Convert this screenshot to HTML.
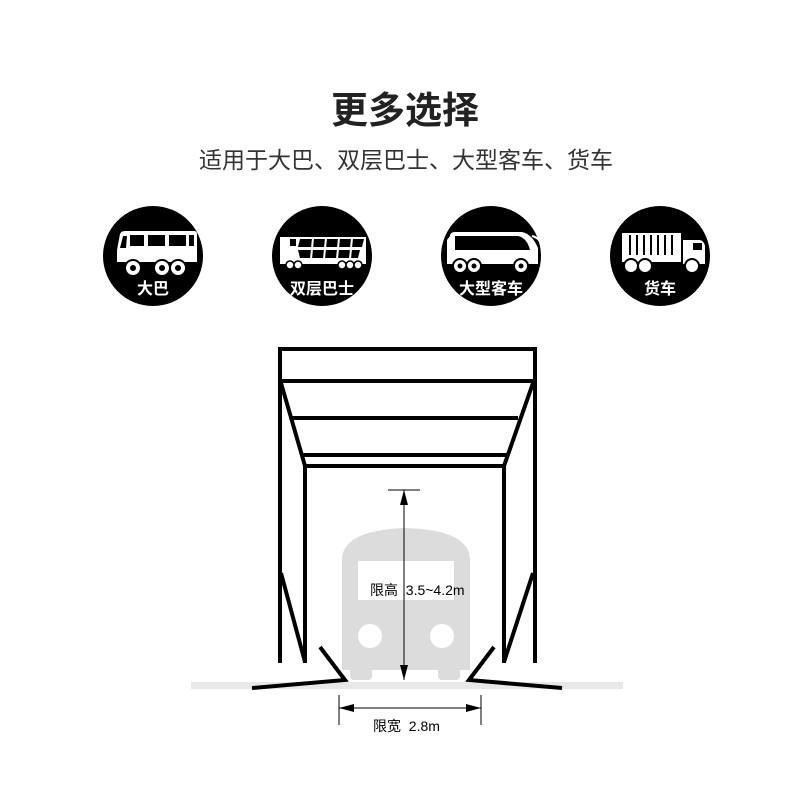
<!DOCTYPE html>
<html><head><meta charset="utf-8"><style>
html,body{margin:0;padding:0;background:#fff;}
body{width:800px;height:800px;overflow:hidden;}
</style></head><body>
<svg width="800" height="800" viewBox="0 0 800 800" xmlns="http://www.w3.org/2000/svg" font-family="'Liberation Sans','Noto Sans CJK SC',sans-serif">
<text x="405" y="123" text-anchor="middle" font-size="37" font-weight="bold" fill="#222">更多选择</text>
<text x="406" y="168" text-anchor="middle" font-size="23" fill="#333">适用于大巴、双层巴士、大型客车、货车</text>

<!-- icon 1 bus -->
<g>
<circle cx="153" cy="256" r="50" fill="#000"/>
<path d="M120 234 Q121 231 125 231 L194 231 Q197 231 197 234 L197 262 L117 262 L117 250 Z" fill="#fff"/>
<rect x="130" y="235" width="14" height="11" fill="#000"/>
<rect x="148" y="235" width="17" height="11" fill="#000"/>
<rect x="169" y="235" width="17" height="11" fill="#000"/>
<rect x="189" y="235" width="5" height="11" fill="#000"/>
<path d="M123 236 L127 236 L126 248 L120 248 Z" fill="#000"/>
<circle cx="133" cy="268" r="8" fill="#fff" stroke="#000" stroke-width="2"/><circle cx="133" cy="268" r="3" fill="#000"/>
<circle cx="162" cy="268" r="8" fill="#fff" stroke="#000" stroke-width="2"/><circle cx="162" cy="268" r="3" fill="#000"/>
<circle cx="178" cy="268" r="8" fill="#fff" stroke="#000" stroke-width="2"/><circle cx="178" cy="268" r="3" fill="#000"/>
<text x="153" y="294" text-anchor="middle" font-size="16" font-weight="bold" fill="#fff">大巴</text>
</g>
<!-- icon 2 double decker -->
<g>
<circle cx="322" cy="256" r="50" fill="#000"/>
<rect x="280" y="237" width="86" height="27" fill="#fff"/>
<rect x="290" y="239" width="6" height="7" fill="#000"/>
<path d="M300 239 L364 239 L362 247 L298 247 Z" fill="#000"/>
<path d="M298 250 L360 250 L358 258 L300 258 Z" fill="#000"/>
<g stroke="#fff" stroke-width="2"><line x1="313" y1="238" x2="311" y2="259"/><line x1="326" y1="238" x2="324" y2="259"/><line x1="339" y1="238" x2="337" y2="259"/><line x1="352" y1="238" x2="350" y2="259"/></g>
<circle cx="290" cy="265" r="4" fill="#fff" stroke="#000" stroke-width="1.5"/><circle cx="298" cy="265" r="4" fill="#fff" stroke="#000" stroke-width="1.5"/>
<circle cx="342" cy="265" r="4" fill="#fff" stroke="#000" stroke-width="1.5"/><circle cx="350" cy="265" r="4" fill="#fff" stroke="#000" stroke-width="1.5"/><circle cx="358" cy="265" r="4" fill="#fff" stroke="#000" stroke-width="1.5"/>
<text x="322" y="294" text-anchor="middle" font-size="16" font-weight="bold" fill="#fff">双层巴士</text>
</g>
<!-- icon 3 coach -->
<g>
<circle cx="491" cy="256" r="50" fill="#000"/>
<path d="M450 236 Q450 232 455 232 L522 232 Q532 234 538 248 L538 264 L447 264 L447 240 Z" fill="#fff"/>
<path d="M455 236 L518 236 Q527 238 530 250 L455 250 Z" fill="#000"/>
<path d="M532 236 Q540 238 541 245" stroke="#fff" stroke-width="2" fill="none"/>
<circle cx="460" cy="266" r="7" fill="#fff" stroke="#000" stroke-width="2"/><circle cx="460" cy="266" r="2.5" fill="#000"/>
<circle cx="474" cy="266" r="7" fill="#fff" stroke="#000" stroke-width="2"/><circle cx="474" cy="266" r="2.5" fill="#000"/>
<circle cx="521" cy="266" r="7" fill="#fff" stroke="#000" stroke-width="2"/><circle cx="521" cy="266" r="2.5" fill="#000"/>
<text x="491" y="294" text-anchor="middle" font-size="16" font-weight="bold" fill="#fff">大型客车</text>
</g>
<!-- icon 4 truck -->
<g>
<circle cx="660" cy="256" r="50" fill="#000"/>
<rect x="622" y="233" width="59" height="29" fill="#fff"/>
<g stroke="#000" stroke-width="2"><line x1="630" y1="235" x2="630" y2="255"/><line x1="637" y1="235" x2="637" y2="255"/><line x1="644" y1="235" x2="644" y2="255"/><line x1="651" y1="235" x2="651" y2="255"/><line x1="658" y1="235" x2="658" y2="255"/><line x1="665" y1="235" x2="665" y2="255"/><line x1="672" y1="235" x2="672" y2="255"/></g>
<path d="M683 240 L700 240 Q704 241 705 246 L705 264 L683 264 Z" fill="#fff"/>
<rect x="693" y="243" width="9" height="7" fill="#000"/>
<circle cx="631" cy="266" r="7" fill="#fff" stroke="#000" stroke-width="2"/>
<circle cx="645" cy="266" r="7" fill="#fff" stroke="#000" stroke-width="2"/>
<circle cx="692" cy="266" r="7" fill="#fff" stroke="#000" stroke-width="2"/>
<text x="660" y="294" text-anchor="middle" font-size="16" font-weight="bold" fill="#fff">货车</text>
</g>

<!-- ground -->
<rect x="191" y="682" width="432" height="7" fill="#e8e8e8"/>
<!-- bus -->
<g fill="#dcdcdc">
<path d="M342 560 Q342 530 406 528 Q470 530 470 560 L470 670 L342 670 Z"/>
<rect x="350" y="660" width="22" height="20" rx="4"/>
<rect x="438" y="660" width="22" height="20" rx="4"/>
</g>
<rect x="358" y="561" width="96" height="39" fill="#fff"/>
<circle cx="370" cy="636" r="12" fill="#fff"/>
<circle cx="442" cy="636" r="12" fill="#fff"/>

<!-- frame -->
<g stroke="#000" stroke-width="4" fill="none" stroke-linecap="butt">
<rect x="280" y="349" width="255" height="32"/>
<line x1="280" y1="381" x2="280" y2="663"/>
<line x1="535" y1="381" x2="535" y2="663"/>
<polyline points="281,383 305,466 305,663"/>
<polyline points="533,383 504,466 504,663"/>
<line x1="292" y1="418" x2="518" y2="418"/>
<line x1="303" y1="455" x2="507" y2="455"/>
<line x1="305" y1="466" x2="504" y2="466"/>
<line x1="281" y1="573" x2="305" y2="662"/>
<line x1="533" y1="573" x2="504" y2="662"/>
<polyline points="252,688 345,680 320,647"/>
<polyline points="562,688 469,680 494,647"/>
</g>

<!-- dimensions -->
<g stroke="#000" stroke-width="1">
<line x1="388" y1="490" x2="420" y2="490"/>
<line x1="404" y1="490" x2="404" y2="680"/>
<line x1="339" y1="695" x2="339" y2="725"/>
<line x1="481" y1="695" x2="481" y2="725"/>
<line x1="339" y1="708" x2="481" y2="708"/>
</g>
<path d="M404 490 L400 505 L408 505 Z M404 680 L400 665 L408 665 Z" fill="#000"/>
<path d="M339 708 L354 704 L354 712 Z M481 708 L466 704 L466 712 Z" fill="#000"/>
<text x="370" y="595" font-size="14" fill="#000" xml:space="preserve">限高  3.5~4.2m</text>
<text x="373" y="731" font-size="14" fill="#000" xml:space="preserve">限宽  2.8m</text>
</svg>
</body></html>
